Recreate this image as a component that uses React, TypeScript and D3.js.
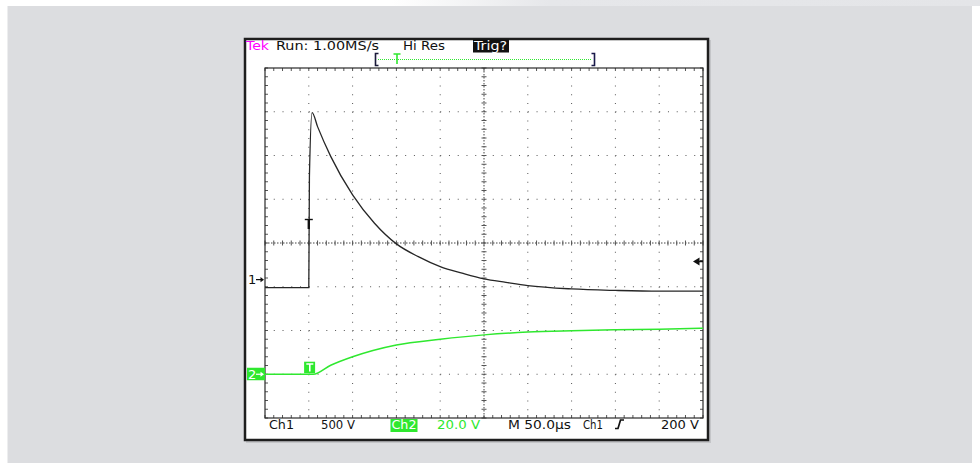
import React, { useRef, useEffect } from 'react';
import * as d3 from 'd3';

// channel 1: time in µs after trigger, volts
const ch1Time = [-50, 0, 0.7, 3.8, 10, 25, 50, 75, 100, 125, 150, 175, 200, 225, 250, 300, 350, 400, 450];
const ch1Volts = [0, 0, 1260, 2000, 1840, 1500, 1060, 736, 500, 354, 240, 165, 100, 60, 23, -15, -32, -41, -41];

// channel 2
const ch2Time = [-50, 0, 5, 25, 50, 100, 150, 200, 250, 300, 350, 400, 450];
const ch2Volts = [0, 0, 0, 4.1, 8.0, 13.4, 16.0, 18.0, 19.3, 19.9, 20.3, 20.6, 21.0];

const timeDomain = [-50, 450];
const ch1VoltsPerDiv = 500;
const ch2VoltsPerDiv = 20;
const ch1Ground = -1.02;
const ch2Ground = -3;

const headerLabels = ['Tek', 'Run: 1.00MS/s', 'Hi Res', 'Trig?'];
const footerLabels = ['Ch1', '500 V', 'Ch2', '20.0 V', 'M 50.0µs', 'Ch1', '200 V'];

const GREEN = '#2fe82f';
const FONT = '"DejaVu Sans", Verdana, sans-serif';

const App: React.FC = () => {
  const ref = useRef<SVGSVGElement>(null);

  useEffect(() => {
    const svg = d3.select(ref.current);
    svg.selectAll('*').remove();

    const W = 980, H = 463;
    const gx0 = 265, gx1 = 703, gy0 = 68, gy1 = 418;

    const x = d3.scaleLinear().domain(timeDomain).range([gx0, gx1]);
    const yDiv = d3.scaleLinear().domain([-4, 4]).range([gy1, gy0]);
    const divX = (gx1 - gx0) / 10;
    const divY = (gy1 - gy0) / 8;
    const xDiv = (i: number) => gx0 + i * divX;

    // page background
    const defs = svg.append('defs');
    const grad = defs.append('linearGradient').attr('id', 'topfade');
    grad.append('stop').attr('offset', '0%').attr('stop-color', '#ffffff');
    grad.append('stop').attr('offset', '40%').attr('stop-color', '#ffffff');
    grad.append('stop').attr('offset', '56%').attr('stop-color', '#e6e7ea');
    grad.append('stop').attr('offset', '100%').attr('stop-color', '#e4e5e8');
    svg.append('rect').attr('width', W).attr('height', H).attr('fill', '#ffffff');
    svg.append('rect').attr('width', W).attr('height', 6).attr('fill', 'url(#topfade)');
    svg.append('rect').attr('x', 7.5).attr('y', 6).attr('width', 964.5).attr('height', H - 6).attr('fill', '#dcdde0');

    // scope panel
    svg.append('rect').attr('x', 246).attr('y', 40).attr('width', 465).attr('height', 403).attr('fill', '#c4c5c8');
    svg.append('rect').attr('x', 245).attr('y', 39).attr('width', 463).attr('height', 401)
      .attr('fill', '#ffffff').attr('stroke', '#1e1e1e').attr('stroke-width', 2.5);

    const g = svg.append('g');

    // dotted graticule lines
    d3.range(1, 10).filter(i => i !== 5).forEach(i => {
      g.append('line').attr('x1', xDiv(i)).attr('x2', xDiv(i)).attr('y1', gy0).attr('y2', gy1)
        .attr('stroke', '#555').attr('stroke-width', 1)
        .attr('stroke-dasharray', `1 ${divY / 5 - 1}`);
    });
    d3.range(1, 8).filter(j => j !== 4).forEach(j => {
      const yy = yDiv(j - 4);
      g.append('line').attr('x1', gx0).attr('x2', gx1).attr('y1', yy).attr('y2', yy)
        .attr('stroke', '#555').attr('stroke-width', 1)
        .attr('stroke-dasharray', `1 ${divX / 5 - 1}`);
    });

    // centre cross
    const cx = xDiv(5), cy = yDiv(0);
    g.append('line').attr('x1', gx0).attr('x2', gx1).attr('y1', cy).attr('y2', cy)
      .attr('stroke', '#444').attr('stroke-width', 1).attr('stroke-dasharray', '1.5 1.5');
    g.append('line').attr('x1', cx).attr('x2', cx).attr('y1', gy0).attr('y2', gy1)
      .attr('stroke', '#444').attr('stroke-width', 1).attr('stroke-dasharray', '1.5 1.5');
    d3.range(0, 51).forEach(k => {
      const xx = gx0 + k * divX / 5;
      g.append('line').attr('x1', xx).attr('x2', xx).attr('y1', cy - 2.5).attr('y2', cy + 2.5)
        .attr('stroke', '#555').attr('stroke-width', 1);
      g.append('line').attr('x1', xx).attr('x2', xx).attr('y1', gy0).attr('y2', gy0 + 3)
        .attr('stroke', '#555').attr('stroke-width', 1);
      g.append('line').attr('x1', xx).attr('x2', xx).attr('y1', gy1 - 3).attr('y2', gy1)
        .attr('stroke', '#555').attr('stroke-width', 1);
    });
    d3.range(0, 41).forEach(k => {
      const yy = gy0 + k * divY / 5;
      g.append('line').attr('x1', cx - 2.5).attr('x2', cx + 2.5).attr('y1', yy).attr('y2', yy)
        .attr('stroke', '#555').attr('stroke-width', 1);
      g.append('line').attr('x1', gx0).attr('x2', gx0 + 3).attr('y1', yy).attr('y2', yy)
        .attr('stroke', '#555').attr('stroke-width', 1);
      g.append('line').attr('x1', gx1 - 3).attr('x2', gx1).attr('y1', yy).attr('y2', yy)
        .attr('stroke', '#555').attr('stroke-width', 1);
    });

    // graticule frame
    g.append('rect').attr('x', gx0).attr('y', gy0).attr('width', gx1 - gx0).attr('height', gy1 - gy0)
      .attr('fill', 'none').attr('stroke', '#2a2a2a').attr('stroke-width', 1.2);

    // traces
    const line1 = d3.line<number>()
      .x((_, i) => x(ch1Time[i]))
      .y(v => yDiv(v / ch1VoltsPerDiv + ch1Ground))
      .curve(d3.curveMonotoneX);
    g.append('path').datum(ch1Volts).attr('d', line1)
      .attr('fill', 'none').attr('stroke', '#262626').attr('stroke-width', 1.3);

    const line2 = d3.line<number>()
      .x((_, i) => x(ch2Time[i]))
      .y(v => yDiv(v / ch2VoltsPerDiv + ch2Ground))
      .curve(d3.curveMonotoneX);
    g.append('path').datum(ch2Volts).attr('d', line2)
      .attr('fill', 'none').attr('stroke', GREEN).attr('stroke-width', 1.5);

    const label = (t: string, px: number, py: number, fill: string, len?: number, size = 13) => {
      const el = svg.append('text').attr('x', px).attr('y', py).attr('fill', fill)
        .attr('font-family', FONT).attr('font-size', size).text(t);
      if (len) el.attr('textLength', len).attr('lengthAdjust', 'spacingAndGlyphs');
      return el;
    };

    // header
    label(headerLabels[0], 246, 50, '#ff00ff', 23);
    label(headerLabels[1], 276, 50, '#111', 103);
    label(headerLabels[2], 403, 50, '#111', 42);
    svg.append('rect').attr('x', 473).attr('y', 39.5).attr('width', 36).attr('height', 13).attr('fill', '#111');
    label(headerLabels[3], 474, 50, '#fff', 33);

    // record bar
    svg.append('line').attr('x1', 378).attr('x2', 591).attr('y1', 59.5).attr('y2', 59.5)
      .attr('stroke', GREEN).attr('stroke-width', 1).attr('stroke-dasharray', '1 1');
    svg.append('path').attr('d', 'M378.5,53.5 H375.5 V65.5 H378.5').attr('fill', 'none')
      .attr('stroke', '#1a1a3a').attr('stroke-width', 1.6);
    svg.append('path').attr('d', 'M591.5,53.5 H594.5 V65.5 H591.5').attr('fill', 'none')
      .attr('stroke', '#1a1a4a').attr('stroke-width', 1.6);
    svg.append('path').attr('d', 'M393.5,54 H400.5 M397,54 V64').attr('fill', 'none')
      .attr('stroke', GREEN).attr('stroke-width', 1.6);

    // footer
    const fy = 429;
    label(footerLabels[0], 269, fy, '#111', 25);
    label(footerLabels[1], 321, fy, '#111', 34);
    svg.append('rect').attr('x', 390.5).attr('y', 419).attr('width', 27).attr('height', 13).attr('fill', GREEN);
    label(footerLabels[2], 391.5, fy, '#fff', 25);
    label(footerLabels[3], 437, fy, GREEN, 43);
    label(footerLabels[4], 508, fy, '#111', 63);
    label(footerLabels[5], 583, fy, '#111', 20);
    svg.append('path').attr('d', 'M615,428.5 H618 L620.5,420 H624').attr('fill', 'none')
      .attr('stroke', '#111').attr('stroke-width', 1.7);
    label(footerLabels[6], 661, fy, '#111', 38);

    // channel ground markers
    const g1 = yDiv(ch1Ground) - 8;
    label('1', 248, g1 + 4.5, '#111');
    svg.append('path').attr('d', `M256,${g1} H262`).attr('stroke', '#111').attr('stroke-width', 1.2);
    svg.append('path').attr('d', `M264,${g1} l-3.5,-2.6 v5.2 z`).attr('fill', '#111');

    const g2 = yDiv(ch2Ground);
    svg.append('rect').attr('x', 247).attr('y', g2 - 6.5).attr('width', 18).attr('height', 12.5).attr('fill', GREEN);
    label('2', 248, g2 + 4.8, '#fff');
    svg.append('path').attr('d', `M256,${g2} H262`).attr('stroke', '#fff').attr('stroke-width', 1.2);
    svg.append('path').attr('d', `M264,${g2} l-3.5,-2.6 v5.2 z`).attr('fill', '#fff');

    // trigger markers
    const tx = x(0);
    svg.append('path').attr('d', `M${tx - 4},219.5 H${tx + 4}`).attr('stroke', '#111').attr('stroke-width', 1.4);
    svg.append('path').attr('d', `M${tx},219.5 V229`).attr('stroke', '#111').attr('stroke-width', 2.4);
    svg.append('rect').attr('x', tx - 4.7).attr('y', 361.7).attr('width', 11).attr('height', 11.5).attr('fill', GREEN);
    svg.append('path').attr('d', `M${tx - 2.5},364 H${tx + 4.5} M${tx + 1},364 V371.5`).attr('fill', 'none')
      .attr('stroke', '#fff').attr('stroke-width', 1.6);

    // trigger level arrow
    svg.append('path').attr('d', 'M693,261.5 L699.5,257.5 V265.5 Z').attr('fill', '#111');
    svg.append('line').attr('x1', 698).attr('x2', 703).attr('y1', 261.5).attr('y2', 261.5)
      .attr('stroke', '#111').attr('stroke-width', 1.5);
  }, []);

  return (
    <div style={{ position: 'absolute', left: 0, top: 0 }}>
      <svg ref={ref} width={980} height={463} style={{ display: 'block' }}></svg>
    </div>
  );
};

export default App;
